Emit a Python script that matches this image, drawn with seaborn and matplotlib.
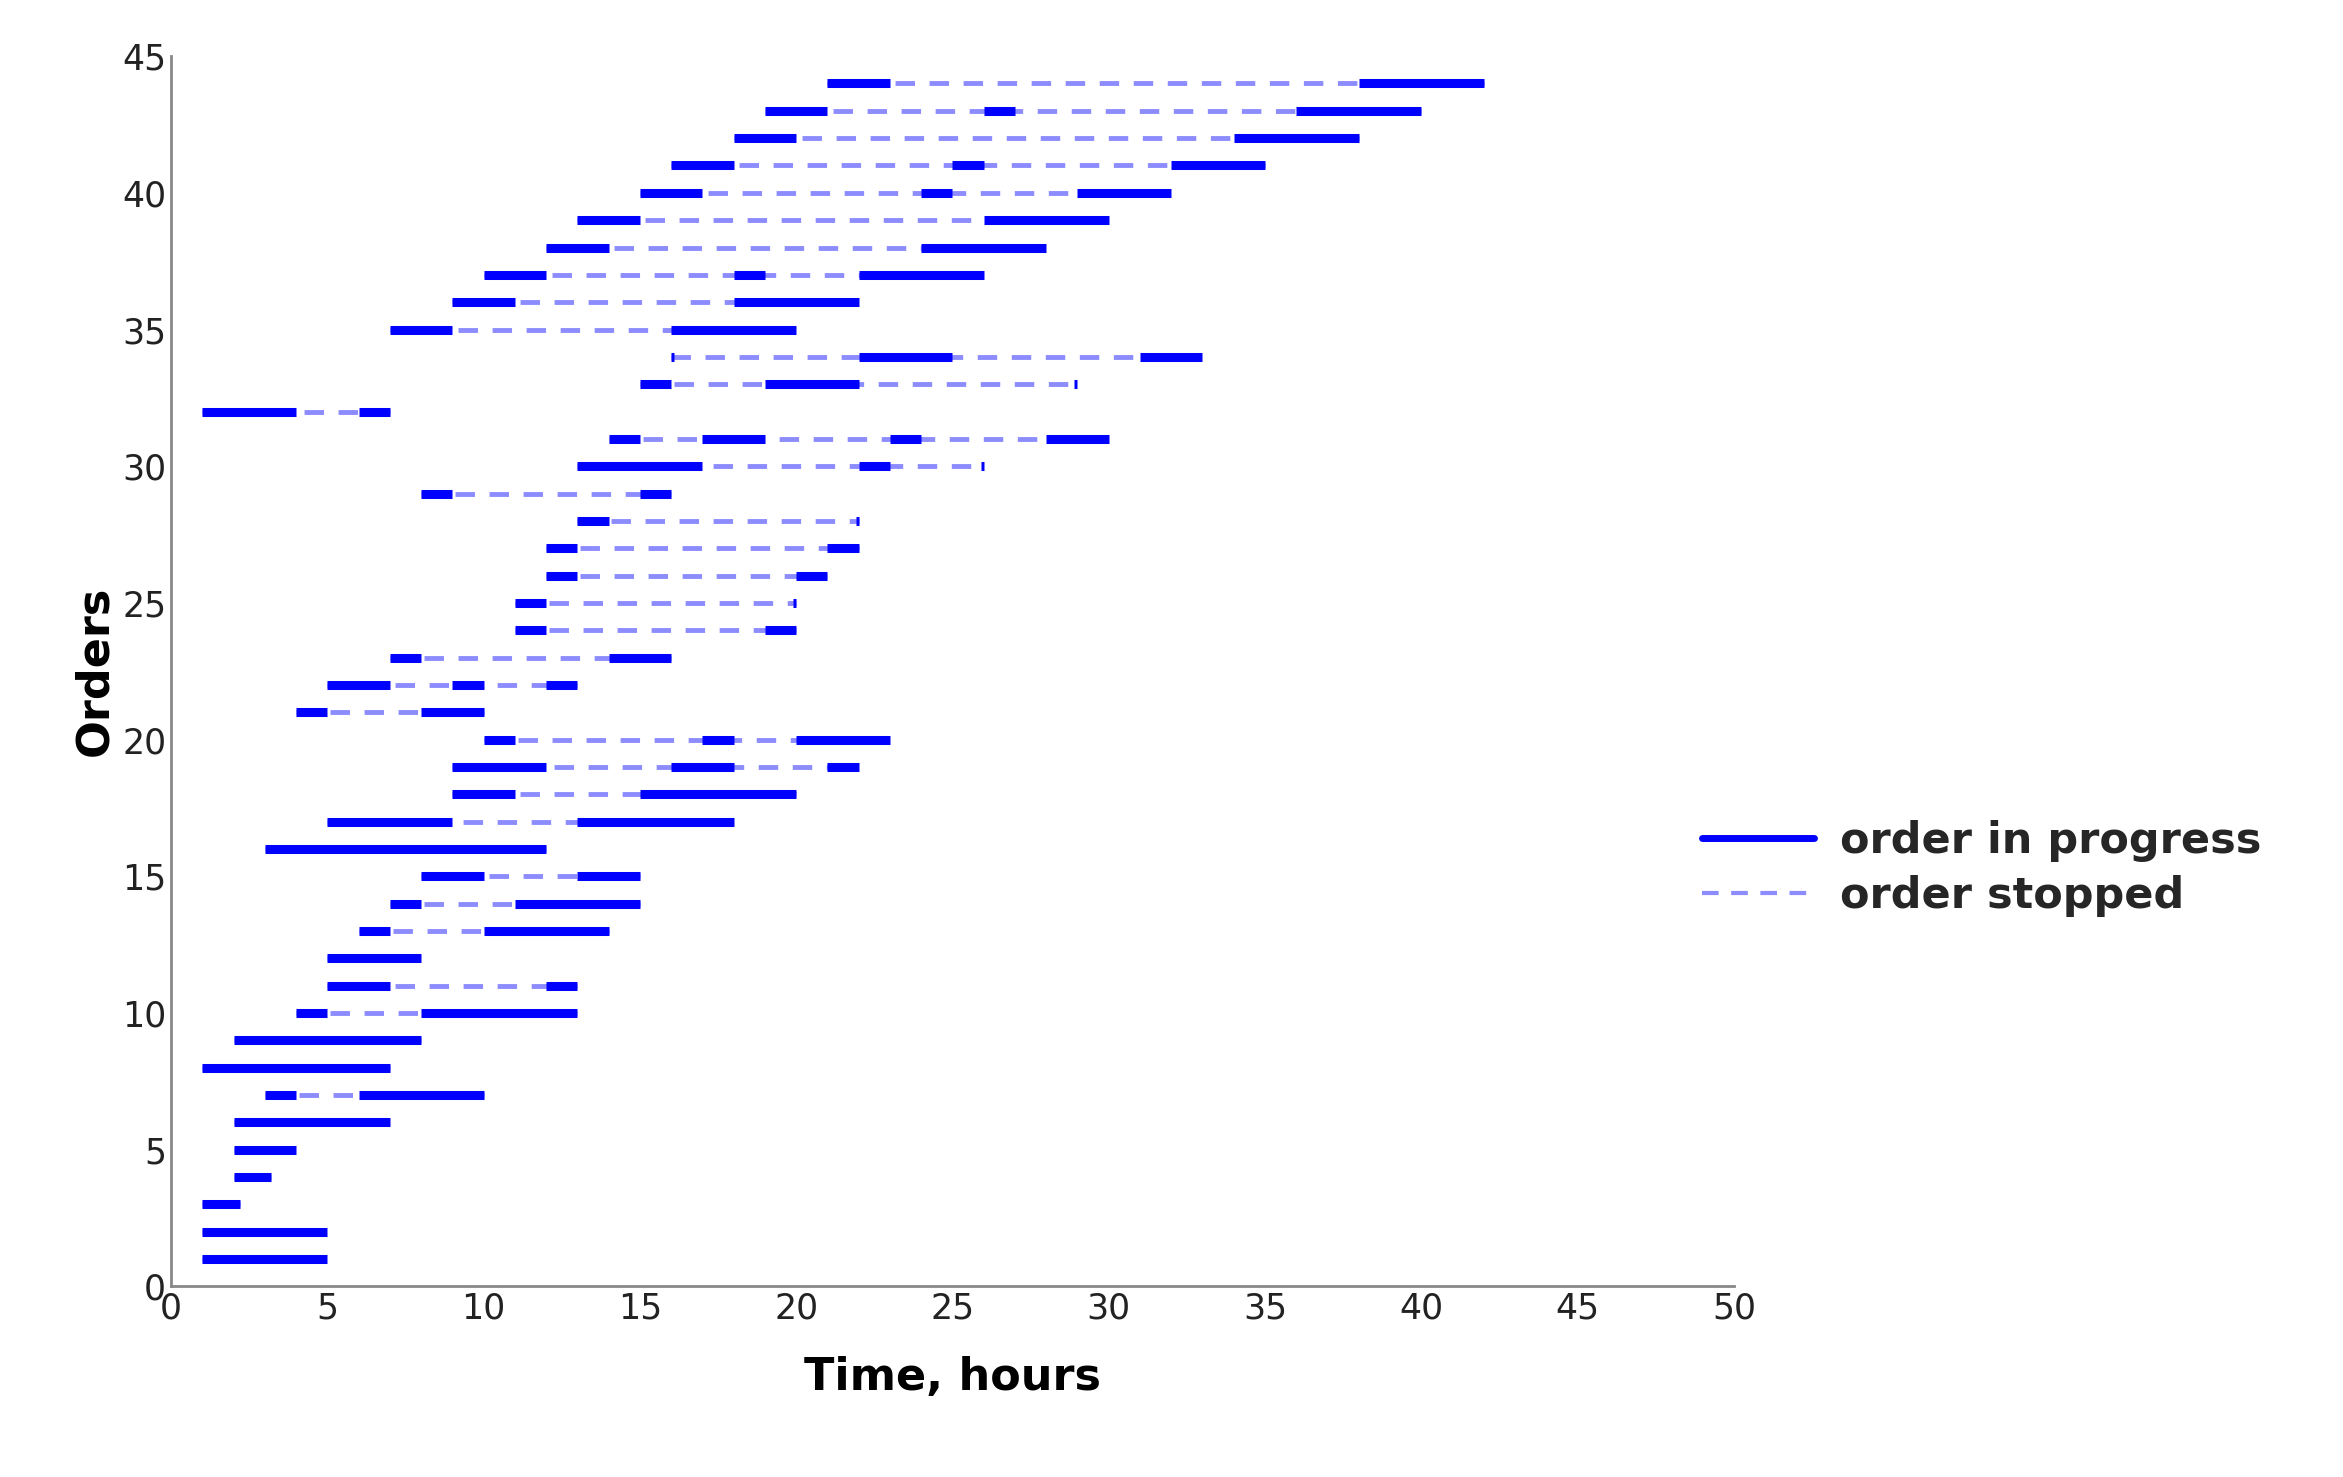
import pandas as pd
import seaborn as sns
import matplotlib.pyplot as plt
from matplotlib.lines import Line2D

# order number -> periods when the order is in progress (hours)
orders = list(range(1, 45))
progress = [
    [(1, 5)], [(1, 5)], [(1, 2.2)], [(2, 3.2)], [(2, 4)], [(2, 7)],
    [(3, 4), (6, 10)], [(1, 7)], [(2, 8)], [(4, 5), (8, 13)],
    [(5, 7), (12, 13)], [(5, 8)], [(6, 7), (10, 14)], [(7, 8), (11, 15)],
    [(8, 10), (13, 15)], [(3, 12)], [(5, 9), (13, 18)], [(9, 11), (15, 20)],
    [(9, 12), (16, 18), (21, 22)], [(10, 11), (17, 18), (20, 23)],
    [(4, 5), (8, 10)], [(5, 7), (9, 10), (12, 13)], [(7, 8), (14, 16)],
    [(11, 12), (19, 20)], [(11, 12), (19.9, 20)], [(12, 13), (20, 21)],
    [(12, 13), (21, 22)], [(13, 14), (21.9, 22)], [(8, 9), (15, 16)],
    [(13, 17), (22, 23), (25.9, 26)], [(14, 15), (17, 19), (23, 24), (28, 30)],
    [(1, 4), (6, 7)], [(15, 16), (19, 22), (28.9, 29)],
    [(16, 16.1), (22, 25), (31, 33)], [(7, 9), (16, 20)], [(9, 11), (18, 22)],
    [(10, 12), (18, 19), (22, 26)], [(12, 14), (24, 28)], [(13, 15), (26, 30)],
    [(15, 17), (24, 25), (29, 32)], [(16, 18), (25, 26), (32, 35)],
    [(18, 20), (34, 38)], [(19, 21), (26, 27), (36, 40)], [(21, 23), (38, 42)],
]

run_rows, stop_rows = [], []
seg = 0
for y, periods in zip(orders, progress):
    stop_rows += [(y, periods[0][0], y), (y, periods[-1][1], y)]
    for a, b in periods:
        run_rows += [(seg, a, y), (seg, b, y)]
        seg += 1
run = pd.DataFrame(run_rows, columns=["seg", "time", "order"])
stop = pd.DataFrame(stop_rows, columns=["seg", "time", "order"])

sns.set_style("white")
plt.rcParams['font.family'] = ['DejaVu Sans']
fig = plt.figure(figsize=(23.43, 14.77), dpi=100)
ax = fig.add_axes([0.073, 0.129, 0.667, 0.833])

sns.lineplot(data=stop, x="time", y="order", units="seg", estimator=None,
             color="#8c8cff", lw=3.5, ax=ax, sort=False,
             dashes=False, linestyle=(0, (4, 3)))
sns.lineplot(data=run, x="time", y="order", units="seg", estimator=None,
             color="#0000ff", lw=6.5, ax=ax, sort=False, solid_capstyle="butt")

ax.set_xlim(0, 50)
ax.set_ylim(0, 45)
ax.set_xticks(range(0, 51, 5))
ax.set_yticks(range(0, 46, 5))
ax.tick_params(direction="in", labelsize=25, length=8, colors="#888888",
               labelcolor="#222222")
for s in ["top", "right"]:
    ax.spines[s].set_visible(False)
for s in ["left", "bottom"]:
    ax.spines[s].set_color("#888888")
    ax.spines[s].set_linewidth(2)
ax.set_xlabel("Time, hours", fontsize=32, fontweight="bold", labelpad=22,
              color="black")
ax.set_ylabel("Orders", fontsize=32, fontweight="bold", labelpad=4,
              color="black")

handles = [Line2D([], [], color="#0000ff", lw=5),
           Line2D([], [], color="#8c8cff", lw=3, linestyle=(0, (4, 3)))]
fig.legend(handles, ["order in progress", "order stopped"],
           loc="center left", bbox_to_anchor=(0.71, 0.412), frameon=False,
           prop={"size": 31, "weight": "bold"}, handlelength=2.6,
           labelspacing=0.3, handletextpad=0.6)

fig.savefig("out.png", dpi=100)
